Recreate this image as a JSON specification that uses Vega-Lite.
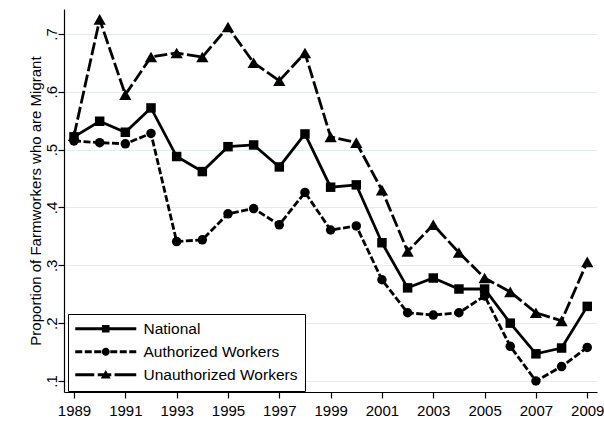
{
  "$schema": "https://vega.github.io/schema/vega-lite/v6.json",
  "width": 533,
  "height": 383,
  "autosize": "none",
  "padding": {"left": 64, "top": 9, "right": 7, "bottom": 41},
  "data": {
    "values": [
      {"year": 1989, "series": "National", "share": 0.522},
      {"year": 1990, "series": "National", "share": 0.549},
      {"year": 1991, "series": "National", "share": 0.530},
      {"year": 1992, "series": "National", "share": 0.572},
      {"year": 1993, "series": "National", "share": 0.488},
      {"year": 1994, "series": "National", "share": 0.462},
      {"year": 1995, "series": "National", "share": 0.505},
      {"year": 1996, "series": "National", "share": 0.508},
      {"year": 1997, "series": "National", "share": 0.470},
      {"year": 1998, "series": "National", "share": 0.527},
      {"year": 1999, "series": "National", "share": 0.435},
      {"year": 2000, "series": "National", "share": 0.439},
      {"year": 2001, "series": "National", "share": 0.339},
      {"year": 2002, "series": "National", "share": 0.261},
      {"year": 2003, "series": "National", "share": 0.278},
      {"year": 2004, "series": "National", "share": 0.259},
      {"year": 2005, "series": "National", "share": 0.259},
      {"year": 2006, "series": "National", "share": 0.200},
      {"year": 2007, "series": "National", "share": 0.147},
      {"year": 2008, "series": "National", "share": 0.157},
      {"year": 2009, "series": "National", "share": 0.229},
      {"year": 1989, "series": "Authorized Workers", "share": 0.515},
      {"year": 1990, "series": "Authorized Workers", "share": 0.512},
      {"year": 1991, "series": "Authorized Workers", "share": 0.510},
      {"year": 1992, "series": "Authorized Workers", "share": 0.528},
      {"year": 1993, "series": "Authorized Workers", "share": 0.341},
      {"year": 1994, "series": "Authorized Workers", "share": 0.344},
      {"year": 1995, "series": "Authorized Workers", "share": 0.389},
      {"year": 1996, "series": "Authorized Workers", "share": 0.398},
      {"year": 1997, "series": "Authorized Workers", "share": 0.370},
      {"year": 1998, "series": "Authorized Workers", "share": 0.426},
      {"year": 1999, "series": "Authorized Workers", "share": 0.361},
      {"year": 2000, "series": "Authorized Workers", "share": 0.368},
      {"year": 2001, "series": "Authorized Workers", "share": 0.275},
      {"year": 2002, "series": "Authorized Workers", "share": 0.218},
      {"year": 2003, "series": "Authorized Workers", "share": 0.214},
      {"year": 2004, "series": "Authorized Workers", "share": 0.218},
      {"year": 2005, "series": "Authorized Workers", "share": 0.247},
      {"year": 2006, "series": "Authorized Workers", "share": 0.160},
      {"year": 2007, "series": "Authorized Workers", "share": 0.100},
      {"year": 2008, "series": "Authorized Workers", "share": 0.125},
      {"year": 2009, "series": "Authorized Workers", "share": 0.158},
      {"year": 1989, "series": "Unauthorized Workers", "share": 0.524},
      {"year": 1990, "series": "Unauthorized Workers", "share": 0.725},
      {"year": 1991, "series": "Unauthorized Workers", "share": 0.595},
      {"year": 1992, "series": "Unauthorized Workers", "share": 0.660},
      {"year": 1993, "series": "Unauthorized Workers", "share": 0.667},
      {"year": 1994, "series": "Unauthorized Workers", "share": 0.660},
      {"year": 1995, "series": "Unauthorized Workers", "share": 0.712},
      {"year": 1996, "series": "Unauthorized Workers", "share": 0.650},
      {"year": 1997, "series": "Unauthorized Workers", "share": 0.619},
      {"year": 1998, "series": "Unauthorized Workers", "share": 0.667},
      {"year": 1999, "series": "Unauthorized Workers", "share": 0.522},
      {"year": 2000, "series": "Unauthorized Workers", "share": 0.512},
      {"year": 2001, "series": "Unauthorized Workers", "share": 0.430},
      {"year": 2002, "series": "Unauthorized Workers", "share": 0.324},
      {"year": 2003, "series": "Unauthorized Workers", "share": 0.370},
      {"year": 2004, "series": "Unauthorized Workers", "share": 0.322},
      {"year": 2005, "series": "Unauthorized Workers", "share": 0.278},
      {"year": 2006, "series": "Unauthorized Workers", "share": 0.254},
      {"year": 2007, "series": "Unauthorized Workers", "share": 0.218},
      {"year": 2008, "series": "Unauthorized Workers", "share": 0.204},
      {"year": 2009, "series": "Unauthorized Workers", "share": 0.306}
    ]
  },
  "encoding": {
    "x": {
      "field": "year",
      "type": "quantitative",
      "title": null,
      "scale": {"domain": [1988.61, 2009.38], "nice": false, "zero": false},
      "axis": {
        "values": [1989, 1991, 1993, 1995, 1997, 1999, 2001, 2003, 2005, 2007, 2009],
        "format": "d",
        "grid": false,
        "labelPadding": 5,
        "labelFontSize": 15
      }
    },
    "y": {
      "field": "share",
      "type": "quantitative",
      "title": "Proportion of Farmworkers who are Migrant",
      "scale": {"domain": [0.081, 0.743], "nice": false, "zero": false},
      "axis": {
        "values": [0.1, 0.2, 0.3, 0.4, 0.5, 0.6, 0.7],
        "labelExpr": "replace(format(datum.value, '.1f'), '0.', '.')",
        "labelAngle": 270,
        "labelAlign": "center",
        "labelBaseline": "alphabetic",
        "labelPadding": 2,
        "labelFontSize": 15,
        "grid": true,
        "gridColor": "#e3ecef",
        "gridWidth": 1.2,
        "titleFontSize": 15,
        "titleFontWeight": "normal",
        "titlePadding": 1
      }
    }
  },
  "layer": [
    {
      "mark": {"type": "point", "filled": true, "opacity": 0, "color": "black"},
      "encoding": {
        "shape": {
          "field": "series",
          "type": "nominal",
          "scale": {
            "domain": ["National", "Authorized Workers", "Unauthorized Workers"],
            "range": [
              "M-1,-0.2H7.133V0.2H-1Z M2.567,-0.5H3.567V0.5H2.567Z",
              "M-1,-0.2H-0.067V0.2H-1Z M0.267,-0.2H1.2V0.2H0.267Z M1.533,-0.2H2.467V0.2H1.533Z M3.667,-0.2H4.6V0.2H3.667Z M4.933,-0.2H5.867V0.2H4.933Z M6.2,-0.2H7.133V0.2H6.2Z M2.533,0 A0.533,0.533 0 1,1 3.6,0 A0.533,0.533 0 1,1 2.533,0 Z",
              "M-1,-0.2H1.533V0.2H-1Z M2,-0.2H3.8V0.2H2Z M4.24,-0.2H7.133V0.2H4.24Z M3.067,-0.65L3.733,0.5L2.4,0.5Z"
            ]
          },
          "legend": {
            "title": null,
            "orient": "none",
            "legendX": 4,
            "legendY": 305,
            "direction": "vertical",
            "padding": 7,
            "strokeColor": "black",
            "fillColor": "white",
            "symbolSize": 225,
            "symbolOpacity": 1,
            "symbolFillColor": "black",
            "symbolStrokeWidth": 0,
            "labelOffset": 53,
            "rowPadding": 6,
            "labelFontSize": 15.5,
            "labelColor": "black",
            "labelLimit": 300
          }
        }
      }
    },
    {
      "transform": [{"filter": "datum.series === 'National'"}],
      "layer": [
        {"mark": {"type": "line", "strokeWidth": 2.8, "color": "black"}, "encoding": {}},
        {"mark": {"type": "point", "shape": "square", "filled": true, "opacity": 1, "color": "black", "size": 90}}
      ]
    },
    {
      "transform": [{"filter": "datum.series === 'Authorized Workers'"}],
      "layer": [
        {"mark": {"type": "line", "strokeWidth": 2.8, "color": "black", "strokeDash": [7, 2.5]}, "encoding": {}},
        {"mark": {"type": "point", "shape": "circle", "filled": true, "opacity": 1, "color": "black", "size": 90}}
      ]
    },
    {
      "transform": [{"filter": "datum.series === 'Unauthorized Workers'"}],
      "layer": [
        {"mark": {"type": "line", "strokeWidth": 2.8, "color": "black", "strokeDash": [13, 3.5]}, "encoding": {}},
        {"mark": {"type": "point", "shape": "triangle-up", "filled": true, "opacity": 1, "color": "black", "size": 150}}
      ]
    }
  ],
  "config": {
    "font": "Arial, Liberation Sans, sans-serif",
    "view": {"stroke": null},
    "axis": {
      "domainColor": "black",
      "domainWidth": 1.2,
      "tickColor": "black",
      "tickWidth": 1.2,
      "tickSize": 6,
      "labelColor": "black",
      "titleColor": "black"
    }
  }
}
